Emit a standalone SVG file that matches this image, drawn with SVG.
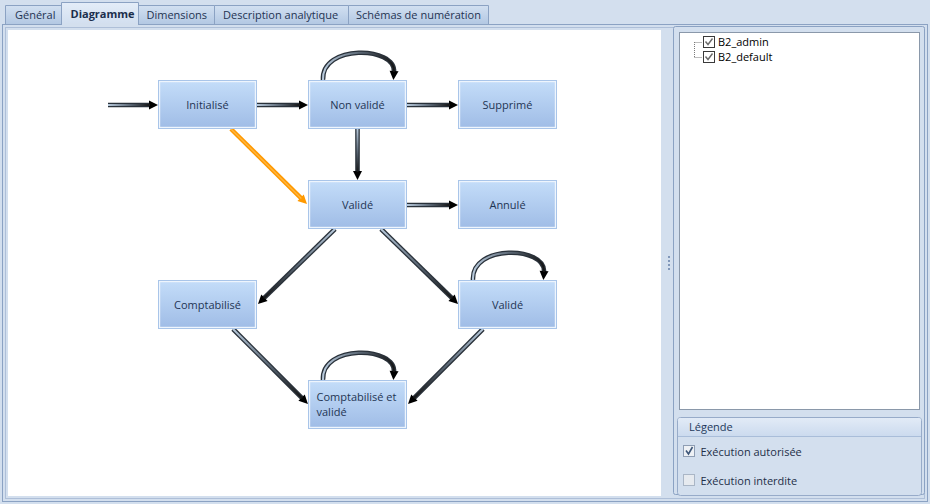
<svg xmlns="http://www.w3.org/2000/svg" xmlns:xlink="http://www.w3.org/1999/xlink" width="930" height="504" viewBox="0 0 930 504">
<style>
text{font-family:"Open Sans","Noto Sans","Liberation Sans",sans-serif;font-size:11px;}
.tab{fill:url(#tabg);stroke:#8ba2c3;stroke-width:1;}
.tabt{fill:#1f3352;}
.nb{fill:url(#nodeg);stroke:#a9c5e9;stroke-width:1;}
.ni{fill:none;stroke:#eef5fd;stroke-width:1.2;}
.nt{fill:#1f3554;text-anchor:middle;}
.o{fill:none;stroke:#29313a;stroke-width:4.6;marker-end:url(#ah);}
.i{fill:none;stroke-width:2;}
.cb{fill:#fff;stroke:#3a3a3a;stroke-width:1;}
.ck{fill:none;stroke:#6a6a6a;stroke-width:1.4;}
</style>
<defs>
<linearGradient id="tabg" x1="0" y1="0" x2="0" y2="1"><stop offset="0" stop-color="#d2e0f1"/><stop offset="1" stop-color="#b3c8e3"/></linearGradient>
<linearGradient id="seltab" x1="0" y1="0" x2="0" y2="1"><stop offset="0" stop-color="#e4edf8"/><stop offset="1" stop-color="#d1deef"/></linearGradient>
<linearGradient id="nodeg" x1="0" y1="0" x2="0" y2="1"><stop offset="0" stop-color="#c4ddf9"/><stop offset="1" stop-color="#9fbce6"/></linearGradient>
<linearGradient id="legh" x1="0" y1="0" x2="0" y2="1"><stop offset="0" stop-color="#e2ebf7"/><stop offset="1" stop-color="#cbdaee"/></linearGradient>
<linearGradient id="gi" gradientUnits="userSpaceOnUse"><stop offset="0" stop-color="#b8cadc"/><stop offset="0.55" stop-color="#56626f"/><stop offset="1" stop-color="#141414"/></linearGradient>
<linearGradient id="c1" xlink:href="#gi" href="#gi" gradientUnits="userSpaceOnUse" x1="108" y1="105" x2="150" y2="105"/>
<linearGradient id="c2" xlink:href="#gi" href="#gi" gradientUnits="userSpaceOnUse" x1="257" y1="105" x2="300" y2="105"/>
<linearGradient id="c3" xlink:href="#gi" href="#gi" gradientUnits="userSpaceOnUse" x1="407" y1="105" x2="450" y2="105"/>
<linearGradient id="c4" xlink:href="#gi" href="#gi" gradientUnits="userSpaceOnUse" x1="357.5" y1="129" x2="357.5" y2="172"/>
<linearGradient id="c6" xlink:href="#gi" href="#gi" gradientUnits="userSpaceOnUse" x1="407" y1="205" x2="450" y2="205"/>
<linearGradient id="c7" xlink:href="#gi" href="#gi" gradientUnits="userSpaceOnUse" x1="335" y1="229" x2="263.7" y2="298.4"/>
<linearGradient id="c8" xlink:href="#gi" href="#gi" gradientUnits="userSpaceOnUse" x1="381" y1="229" x2="452.3" y2="298.4"/>
<linearGradient id="c9" xlink:href="#gi" href="#gi" gradientUnits="userSpaceOnUse" x1="233" y1="329" x2="302.3" y2="398.3"/>
<linearGradient id="c10" xlink:href="#gi" href="#gi" gradientUnits="userSpaceOnUse" x1="483" y1="329" x2="413.7" y2="398.3"/>
<linearGradient id="l1" xlink:href="#gi" href="#gi" gradientUnits="userSpaceOnUse" x1="323" y1="60" x2="394" y2="60"/>
<linearGradient id="l2" xlink:href="#gi" href="#gi" gradientUnits="userSpaceOnUse" x1="473" y1="260" x2="544" y2="260"/>
<linearGradient id="l3" xlink:href="#gi" href="#gi" gradientUnits="userSpaceOnUse" x1="323" y1="360" x2="394" y2="360"/>
<marker id="ah" markerUnits="userSpaceOnUse" markerWidth="10" markerHeight="10" refX="0" refY="0" orient="auto" overflow="visible"><path d="M-1,-4.5 L8,0 L-1,4.5z" fill="#000"/></marker>
<marker id="aho" markerUnits="userSpaceOnUse" markerWidth="10" markerHeight="10" refX="0" refY="0" orient="auto" overflow="visible"><path d="M-1,-4.5 L8,0 L-1,4.5z" fill="#ff9900"/></marker>
</defs>

<!-- background -->
<rect x="0" y="0" width="930" height="504" fill="#d3dfee"/>

<!-- tabs -->
<g id="tabs">
<path class="tab" d="M5.5,24 V5.5 H61.5 V24"/>
<text class="tabt" x="15" y="18.5">Général</text>
<path class="tab" d="M138.5,24 V5.5 H214.5 V24"/>
<text class="tabt" x="146.5" y="18.5">Dimensions</text>
<path class="tab" d="M214.5,24 V5.5 H348.5 V24"/>
<text class="tabt" x="223" y="18.5">Description analytique</text>
<path class="tab" d="M348.5,24 V5.5 H488.5 V24"/>
<text class="tabt" x="356" y="18.5">Schémas de numération</text>
</g>

<!-- panel frame -->
<rect x="2.5" y="24.5" width="925" height="477" fill="#d3dfee" stroke="#8ba2c3"/>
<rect x="5.5" y="27.5" width="919" height="471" fill="none" stroke="#aebfd8"/>
<g id="tab-selected">
<path d="M61.5,25 V2.5 H138.5 V25" fill="url(#seltab)" stroke="#8ba2c3"/>
<rect x="62" y="23" width="76" height="4" fill="#d3dfee"/>
<text x="70.5" y="18" fill="#1b2e4c" font-weight="bold">Diagramme</text>
</g>

<!-- drawing area -->
<rect x="8" y="30" width="653" height="466" fill="#ffffff"/>

<!-- splitter -->
<g fill="#8197ba">
<rect x="668" y="256" width="2" height="2"/>
<rect x="668" y="260" width="2" height="2"/>
<rect x="668" y="264" width="2" height="2"/>
<rect x="668" y="268" width="2" height="2"/>
</g>

<!-- right panel -->
<g id="rightpanel">
<rect x="673.5" y="26.5" width="251" height="468" rx="2" fill="#d3dfee" stroke="#8ba2c3"/>
<rect x="679.5" y="32.5" width="240" height="377" fill="#fff" stroke="#8a98aa"/>
<g id="tree">
<path d="M694.5,42 V57.5 M694.5,42.5 H702 M694.5,57.5 H702" fill="none" stroke="#7a7a7a" stroke-dasharray="1,1"/>
<rect class="cb" x="703.5" y="36.5" width="11" height="11"/>
<path class="ck" d="M705.5,41.5 L708,44.5 L712.5,38.5"/>
<text x="718" y="46" fill="#000">B2_admin</text>
<rect class="cb" x="703.5" y="51.5" width="11" height="11"/>
<path class="ck" d="M705.5,56.5 L708,59.5 L712.5,53.5"/>
<text x="718" y="61" fill="#000">B2_default</text>
</g>
<g id="legend">
<rect x="677.5" y="417.5" width="244" height="78" rx="3" fill="#d3dfee" stroke="#97abc9"/>
<path d="M678,436.5 V420 Q678,418 680,418 H919 Q921,418 921,420 V436.5 Z" fill="url(#legh)"/>
<line x1="678" y1="436.5" x2="921" y2="436.5" stroke="#a9bdd9"/>
<text x="689" y="431" fill="#1e395b">Légende</text>
<rect x="683.5" y="445.5" width="11" height="11" fill="#eef1f5" stroke="#8e9db3"/>
<path d="M686,450.5 L688.5,454 L692.5,447" fill="none" stroke="#3d5678" stroke-width="1.6"/>
<text x="700.5" y="455.5" fill="#1e2f48">Exécution autorisée</text>
<rect x="683.5" y="474.5" width="11" height="11" fill="#e6eaef" stroke="#aab6c6"/>
<text x="700.5" y="484.5" fill="#1e2f48">Exécution interdite</text>
</g>
</g>

<!-- connectors -->
<g id="connectors">
<g><path class="o" d="M108,105 L150,105"/><path class="i" stroke="url(#c1)" d="M108,105 L150,105"/></g>
<g><path class="o" d="M257,105 L300,105"/><path class="i" stroke="url(#c2)" d="M257,105 L300,105"/></g>
<g><path class="o" d="M407,105 L450,105"/><path class="i" stroke="url(#c3)" d="M407,105 L450,105"/></g>
<g><path class="o" d="M357.5,129 L357.5,172"/><path class="i" stroke="url(#c4)" d="M357.5,129 L357.5,172"/></g>
<g><path d="M231,129 L301.3,198.4" fill="none" stroke="#ff9900" stroke-width="4.4" marker-end="url(#aho)"/><path d="M231,129 L301.3,198.4" fill="none" stroke="#ffb640" stroke-width="1.4"/></g>
<g><path class="o" d="M407,205 L450,205"/><path class="i" stroke="url(#c6)" d="M407,205 L450,205"/></g>
<g><path class="o" d="M335,229 L263.7,298.4"/><path class="i" stroke="url(#c7)" d="M335,229 L263.7,298.4"/></g>
<g><path class="o" d="M381,229 L452.3,298.4"/><path class="i" stroke="url(#c8)" d="M381,229 L452.3,298.4"/></g>
<g><path class="o" d="M233,329 L302.3,398.3"/><path class="i" stroke="url(#c9)" d="M233,329 L302.3,398.3"/></g>
<g><path class="o" d="M483,329 L413.7,398.3"/><path class="i" stroke="url(#c10)" d="M483,329 L413.7,398.3"/></g>
<g><path class="o" d="M323,80 C321,44 396,46 394,72"/><path class="i" stroke="url(#l1)" d="M323,80 C321,44 396,46 394,72"/></g>
<g><path class="o" d="M473,280 C471,244 546,246 544,272"/><path class="i" stroke="url(#l2)" d="M473,280 C471,244 546,246 544,272"/></g>
<g><path class="o" d="M323,380 C321,344 396,346 394,372"/><path class="i" stroke="url(#l3)" d="M323,380 C321,344 396,346 394,372"/></g>
</g>

<!-- nodes -->
<g id="n-initialise"><rect class="nb" x="158.5" y="80.5" width="98" height="48"/><rect class="ni" x="159.6" y="81.6" width="95.8" height="45.8"/><text class="nt" x="207.5" y="109">Initialisé</text></g>
<g id="n-nonvalide"><rect class="nb" x="308.5" y="80.5" width="98" height="48"/><rect class="ni" x="309.6" y="81.6" width="95.8" height="45.8"/><text class="nt" x="357.5" y="109">Non validé</text></g>
<g id="n-supprime"><rect class="nb" x="458.5" y="80.5" width="98" height="48"/><rect class="ni" x="459.6" y="81.6" width="95.8" height="45.8"/><text class="nt" x="507.5" y="109">Supprimé</text></g>
<g id="n-valide"><rect class="nb" x="308.5" y="180.5" width="98" height="48"/><rect class="ni" x="309.6" y="181.6" width="95.8" height="45.8"/><text class="nt" x="357.5" y="209">Validé</text></g>
<g id="n-annule"><rect class="nb" x="458.5" y="180.5" width="98" height="48"/><rect class="ni" x="459.6" y="181.6" width="95.8" height="45.8"/><text class="nt" x="507.5" y="209">Annulé</text></g>
<g id="n-comptabilise"><rect class="nb" x="158.5" y="280.5" width="98" height="48"/><rect class="ni" x="159.6" y="281.6" width="95.8" height="45.8"/><text class="nt" x="207.5" y="309">Comptabilisé</text></g>
<g id="n-valide2"><rect class="nb" x="458.5" y="280.5" width="98" height="48"/><rect class="ni" x="459.6" y="281.6" width="95.8" height="45.8"/><text class="nt" x="507.5" y="309">Validé</text></g>
<g id="n-compta-valide"><rect class="nb" x="308.5" y="380.5" width="98" height="48"/><rect class="ni" x="309.6" y="381.6" width="95.8" height="45.8"/><text fill="#1f3554"><tspan x="316.5" y="401">Comptabilisé et</tspan><tspan x="316.5" y="416">validé</tspan></text></g>
</svg>
